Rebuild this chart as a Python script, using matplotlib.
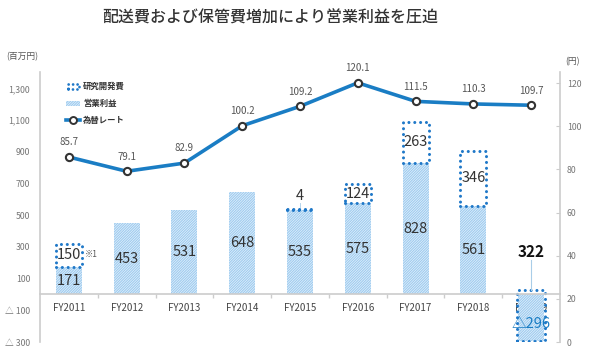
import matplotlib
matplotlib.use("Agg")
import matplotlib.pyplot as plt
from matplotlib.patches import Patch, Rectangle
from matplotlib.lines import Line2D
from matplotlib.legend_handler import HandlerBase
from matplotlib.ticker import FixedLocator, FuncFormatter
import numpy as np

plt.rcParams['font.family'] = ['Noto Sans CJK JP', 'DejaVu Sans']
plt.rcParams['hatch.linewidth'] = 0.8

# ---- data ----
years = ["FY2011", "FY2012", "FY2013", "FY2014", "FY2015", "FY2016", "FY2017", "FY2018", "FY2019"]
op_profit = [171, 453, 531, 648, 535, 575, 828, 561, -296]
rnd_cost = [150, 0, 0, 0, 4, 124, 263, 346, 322]
fx_rate = [85.7, 79.1, 82.9, 100.2, 109.2, 120.1, 111.5, 110.3, 109.7]
left_ticks = [1300, 1100, 900, 700, 500, 300, 100, -100, -300]
right_ticks = [0, 20, 40, 60, 80, 100, 120]
title = "配送費および保管費増加により営業利益を圧迫"

BLUE = "#1a7dc4"
DOT = "#1f78c8"
GRAY = "#cccccc"
HFACE = "#e8f3fc"
HLINE = "#9ecbef"
HATCH = "/" * 13

fig = plt.figure(figsize=(6, 3.57), dpi=100)
ax = fig.add_axes([40/600, 1-342/357, 520/600, 270/357])
x = np.arange(len(years))
w = 0.45

# operating profit bars (hatched)
ax.bar(x, op_profit, width=w, color=HFACE, edgecolor=HLINE,
       hatch=HATCH, linewidth=0, zorder=2)

# R&D dotted boxes stacked
for xi, op, rd in zip(x, op_profit, rnd_cost):
    if rd <= 0:
        continue
    b = ax.bar([xi], [rd], bottom=[op], width=w + (0.04 if op < 0 else 0),
               fill=False, edgecolor=DOT, linewidth=2.2,
               linestyle=(0, (0.01, 1.9)), zorder=3)
    for p in b:
        p.set_capstyle('round')

# labels in bars
for xi, op in zip(x, op_profit):
    if op > 0:
        ax.text(xi, op/2, f"{op}", ha="center", va="center", fontsize=10.5,
                color="#333333", zorder=5)
    else:
        ax.text(xi, op*0.64, f"△{abs(op)}", ha="center", va="center",
                fontsize=10.5, color=BLUE, zorder=5)

for i, (xi, op, rd) in enumerate(zip(x, op_profit, rnd_cost)):
    if rd <= 0:
        continue
    if op < 0:
        top = op + rd
        ax.plot([xi, xi], [top, top + 190], color="#a9cde8", lw=0.8, zorder=3)
        ax.text(xi, top + 240, f"{rd}", ha="center", va="center", fontsize=11,
                fontweight="bold", color="#111111", zorder=5)
    elif rd < 50:
        ax.plot([xi, xi], [op + 20, op + 45], color="#a9cde8", lw=0.6, zorder=3)
        ax.text(xi, op + 85, f"{rd}", ha="center", va="center", fontsize=10.5,
                color="#333333", zorder=5)
    else:
        ax.text(xi, op + rd/2, f"{rd}", ha="center", va="center", fontsize=10.5,
                color="#333333", zorder=5)
        if i == 0:
            ax.text(xi + w/2 + 0.06, op + rd/2 + 5, "※1", ha="left", va="center",
                    fontsize=6, color="#555555", zorder=5)

ax.set_xlim(-0.5, len(years) - 0.5)
ax.set_ylim(-300, 1404)

# axes styling
for s in ["top", "right"]:
    ax.spines[s].set_visible(False)
ax.spines["left"].set_color(GRAY)
ax.spines["left"].set_linewidth(1.2)
ax.spines["bottom"].set_position(("data", 0))
ax.spines["bottom"].set_color(GRAY)
ax.spines["bottom"].set_linewidth(1.2)
ax.spines["bottom"].set_zorder(4)

ax.set_xticks(x)
ax.set_xticklabels(years, fontsize=7, color="#444444")
ax.xaxis.set_minor_locator(FixedLocator(np.arange(0.5, len(years) - 0.5, 1)))
ax.tick_params(axis="x", which="major", length=0, pad=6)
ax.tick_params(axis="x", which="minor", length=3, color=GRAY, width=1)

ax.yaxis.set_major_locator(FixedLocator(left_ticks))
ax.yaxis.set_major_formatter(FuncFormatter(
    lambda v, p: (f"{int(v):,}" if v >= 0 else f"△ {int(-v):,}")))
ax.tick_params(axis="y", length=0, labelsize=6.3, labelcolor="#777777", pad=7)

# right axis for exchange rate
ax2 = ax.twinx()
ax2.set_ylim(0, 125.1)
ax2.plot(x, fx_rate, color=BLUE, lw=2.6, marker="o", markersize=5.2,
         markerfacecolor="white", markeredgecolor="#333333", markeredgewidth=1.5,
         zorder=5)
for xi, v in zip(x, fx_rate):
    ax2.annotate(f"{v}", (xi, v), xytext=(0, 7), textcoords="offset points",
                 ha="center", va="bottom", fontsize=7, color="#555555")
for s in ["top", "left", "bottom"]:
    ax2.spines[s].set_visible(False)
ax2.spines["right"].set_color(GRAY)
ax2.spines["right"].set_linewidth(1.2)
ax2.yaxis.set_major_locator(FixedLocator(right_ticks))
ax2.tick_params(axis="y", direction="in", length=3, color=GRAY,
                labelsize=6.3, labelcolor="#777777", pad=5)

# units
fig.text(22/600, 1-57/357, "(百万円)", ha="center", va="center", fontsize=6.3,
         color="#555555")
fig.text(573/600, 1-62/357, "(円)", ha="center", va="center", fontsize=6.3,
         color="#555555")

# title
fig.text(270/600, 1-18/357, title, ha="center", va="center", fontsize=11.5,
         color="#333333", fontweight="medium")


class DottedBoxHandler(HandlerBase):
    def create_artists(self, legend, orig_handle, xdescent, ydescent,
                       width, height, fontsize, trans):
        r = Rectangle((-xdescent + 1, -ydescent), width - 2, height, fill=False,
                      edgecolor=DOT, linewidth=2.0, linestyle=(0, (0.01, 1.6)),
                      transform=trans)
        r.set_capstyle('round')
        return [r]


# legend
h_rd = Patch(facecolor="none", edgecolor=DOT)
h_op = Patch(facecolor=HFACE, edgecolor=HLINE, hatch=HATCH, linewidth=0)
h_fx = Line2D([], [], color=BLUE, lw=2.6, marker="o", markersize=5,
              markerfacecolor="white", markeredgecolor="#333333", markeredgewidth=1.4)
leg = fig.legend([h_rd, h_op, h_fx], ["研究開発費", "営業利益", "為替レート"],
                 loc="upper left", bbox_to_anchor=(62/600, 1-78/357), frameon=False,
                 fontsize=6, handlelength=1.7, handleheight=0.55, handletextpad=0.35,
                 labelspacing=0.95, borderpad=0,
                 handler_map={h_rd: DottedBoxHandler()})
for t in leg.get_texts():
    t.set_color("#333333")
    t.set_fontweight("bold")

fig.savefig("out.png", dpi=100)
